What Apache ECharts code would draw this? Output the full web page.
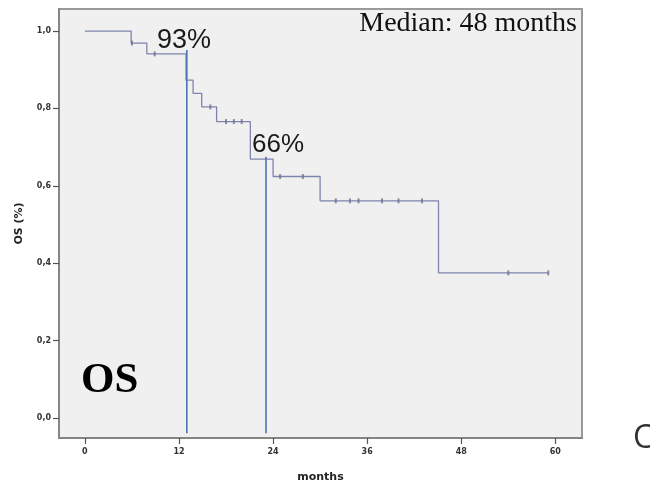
<!DOCTYPE html>
<html>
<head>
<meta charset="utf-8">
<script src="https://cdn.jsdelivr.net/npm/echarts@6/dist/echarts.min.js"></script>
<style>
html,body{margin:0;padding:0;background:#fff;}
#c{width:650px;height:484px;}
</style>
</head>
<body>
<div id="c"></div>
<script>
// Kaplan-Meier step points (time in months, survival proportion)
const eventTimes = [0, 5.9, 7.9, 12.9, 13.8, 14.9, 16.8, 21.1, 24.0, 30.0, 45.1, 59.1];
const eventSurv  = [1.0, 0.969, 0.941, 0.873, 0.839, 0.804, 0.766, 0.669, 0.624, 0.561, 0.375, 0.375];
// censored observations
const censorTimes = [6.0, 8.9, 16.0, 18.0, 19.0, 20.0, 24.9, 27.8, 32.0, 33.8, 34.9, 37.9, 40.0, 43.0, 54.0, 59.1];
const censorSurv  = [0.969, 0.941, 0.804, 0.766, 0.766, 0.766, 0.624, 0.624, 0.561, 0.561, 0.561, 0.561, 0.561, 0.561, 0.375, 0.375];
// reference vertical lines (landmark times)
const refTimes = [13.0, 23.1];
const refTops  = [0.951, 0.675];
const refBottom = -0.04;
// axes
const xTicks = [0, 12, 24, 36, 48, 60];
const yTicks = [0.0, 0.2, 0.4, 0.6, 0.8, 1.0];
const xName = 'months';
const yName = 'OS (%)';
const annot93 = '93%';
const annot66 = '66%';
const medianText = 'Median: 48 months';
const panelText = 'OS';
const sideText = 'C';

const kmData = eventTimes.map((t, i) => [t, eventSurv[i]]);
const censorData = censorTimes.map((t, i) => [t, censorSurv[i]]);
const refSeries = refTimes.map((t, i) => ({
  type: 'line',
  data: [[t, refTops[i]], [t, refBottom]],
  symbol: 'none',
  lineStyle: { color: '#4f74b3', width: 1.6 },
  silent: true,
  z: 3
}));

const chart = echarts.init(document.getElementById('c'), null, { renderer: 'canvas' });
chart.setOption({
  animation: false,
  backgroundColor: '#ffffff',
  grid: {
    left: 59, right: 68, top: 9, bottom: 46,
    outerBoundsMode: 'none',
    containLabel: false,
    show: true,
    backgroundColor: '#f0f0f0',
    borderColor: '#9a9a9a',
    borderWidth: 2
  },
  xAxis: {
    type: 'value',
    min: -3.3, max: 63.4,
    splitLine: { show: false },
    axisLine: { show: true, onZero: false, lineStyle: { color: '#858585', width: 2 } },
    axisTick: { show: true, inside: false, customValues: xTicks, length: 6, lineStyle: { color: '#555', width: 1.2 } },
    axisLabel: { customValues: xTicks, margin: 10, fontSize: 8, fontWeight: 'bold', color: '#333', fontFamily: 'DejaVu Sans' },
    name: xName,
    nameLocation: 'middle',
    nameGap: 34,
    nameTextStyle: { fontSize: 11, fontWeight: 'bold', color: '#222', fontFamily: 'DejaVu Sans' }
  },
  yAxis: {
    type: 'value',
    min: -0.052, max: 1.057,
    splitLine: { show: false },
    axisLine: { show: true, onZero: false, lineStyle: { color: '#858585', width: 2 } },
    axisTick: { show: true, inside: false, customValues: yTicks, length: 6, lineStyle: { color: '#555', width: 1.2 } },
    axisLabel: {
      customValues: yTicks, margin: 8, fontSize: 8, fontWeight: 'bold', color: '#333', fontFamily: 'DejaVu Sans',
      formatter: v => v.toFixed(1).replace('.', ',')
    },
    name: yName,
    nameLocation: 'middle',
    nameGap: 34,
    nameTextStyle: { fontSize: 11, fontWeight: 'bold', color: '#222', fontFamily: 'DejaVu Sans' }
  },
  series: [
    {
      type: 'line',
      data: kmData,
      step: 'end',
      symbol: 'none',
      lineStyle: { color: '#7f84ad', width: 1.3 },
      silent: true,
      z: 2
    },
    {
      type: 'scatter',
      data: censorData,
      symbol: 'rect',
      symbolSize: [2, 5],
      itemStyle: { color: '#6d7199' },
      silent: true,
      z: 4
    },
    ...refSeries
  ],
  graphic: [
    { type: 'text', left: 157, top: 27, z: 10,
      style: { text: annot93, font: '27px "Liberation Sans"', fill: '#1a1a1a' } },
    { type: 'text', left: 252, top: 132, z: 10,
      style: { text: annot66, font: '26px "Liberation Sans"', fill: '#1a1a1a' } },
    { type: 'text', right: 73, top: 10, z: 10,
      style: { text: medianText, font: '28px "Liberation Serif"', fill: '#111' } },
    { type: 'text', left: 81, top: 359, z: 10,
      style: { text: panelText, font: 'bold 43px "Liberation Serif"', fill: '#000' } },
    { type: 'text', left: 633, top: 423, z: 10,
      style: { text: sideText, font: '32px "Open Sans"', fill: '#333' } }
  ]
});
</script>
</body>
</html>
